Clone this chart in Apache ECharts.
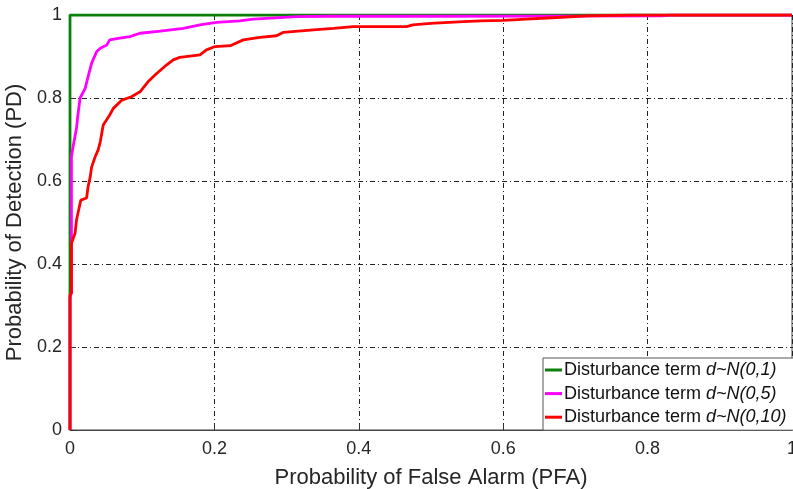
<!DOCTYPE html>
<html>
<head>
<meta charset="utf-8">
<script src="https://cdn.jsdelivr.net/npm/echarts@6/dist/echarts.min.js"></script>
<style>html,body{margin:0;padding:0;background:#fff}#c{width:793px;height:489px}</style>
</head>
<body>
<div id="c"></div>
<script>
var xTicks = [0, 0.2, 0.4, 0.6, 0.8, 1];
var yTicks = [0, 0.2, 0.4, 0.6, 0.8, 1];
var seriesNames = ['d~N(0,1)', 'd~N(0,5)', 'd~N(0,10)'];
var greenData = [[0,0],[0,1],[0.002,1],[1,1]];
var magentaData = [[0,0],[0,0.32],[0.002,0.33],[0.002,0.55],[0.002,0.66],[0.005,0.69],[0.009,0.727],[0.011,0.76],[0.014,0.80],[0.021,0.823],[0.025,0.851],[0.030,0.884],[0.037,0.912],[0.042,0.920],[0.051,0.928],[0.055,0.940],[0.069,0.944],[0.083,0.948],[0.097,0.956],[0.125,0.961],[0.157,0.968],[0.180,0.976],[0.203,0.982],[0.235,0.986],[0.254,0.990],[0.314,0.996],[0.356,0.997],[0.5,0.997],[0.82,0.998],[0.83,1],[1,1]];
var redData = [[0,0],[0,0.325],[0.002,0.33],[0.002,0.45],[0.007,0.474],[0.009,0.506],[0.012,0.530],[0.015,0.554],[0.023,0.559],[0.025,0.586],[0.028,0.610],[0.030,0.634],[0.035,0.659],[0.039,0.675],[0.042,0.695],[0.046,0.735],[0.055,0.759],[0.060,0.775],[0.072,0.795],[0.085,0.803],[0.097,0.815],[0.108,0.839],[0.120,0.859],[0.134,0.880],[0.143,0.892],[0.152,0.898],[0.180,0.904],[0.189,0.916],[0.201,0.924],[0.222,0.926],[0.240,0.940],[0.263,0.946],[0.286,0.950],[0.295,0.958],[0.337,0.964],[0.365,0.968],[0.392,0.972],[0.466,0.972],[0.475,0.976],[0.499,0.980],[0.545,0.984],[0.568,0.986],[0.600,0.987],[0.632,0.990],[0.674,0.994],[0.716,0.998],[0.780,1.0],[1,1]];
var colors = ['#0b800b', '#ff00ff', '#ff0000'];

var chart = echarts.init(document.getElementById('c'), null, {renderer: 'canvas'});
var font = 'Liberation Sans, Arial, Helvetica, sans-serif';
var gridLine = {show: true, lineStyle: {color: '#222', width: 1, type: [5, 3, 1, 3]}};
function axisCommon(name, gap, ticks) {
  return {
    type: 'value', min: 0, max: 1, interval: 0.2,
    name: name, nameLocation: 'middle', nameGap: gap,
    nameTextStyle: {fontFamily: font, fontSize: 22, color: '#262626'},
    axisLine: {show: true, lineStyle: {color: '#444', width: 1}},
    axisTick: {show: true, inside: true, length: 6, lineStyle: {color: '#333'}},
    axisLabel: {fontFamily: font, fontSize: 18, color: '#262626', margin: 8,
      formatter: function (v) { return String(+v.toFixed(1)); }},
    splitLine: gridLine
  };
}
var xa = axisCommon('Probability of False Alarm (PFA)', 37, xTicks);
xa.axisLabel.margin = 10;
var ya = axisCommon('Probability of Detection (PD)', 40, yTicks);
var data = [greenData, magentaData, redData];
var series = seriesNames.map(function (n, i) {
  return {
    name: n, type: 'line', data: data[i], showSymbol: false, symbol: 'none',
    lineStyle: {color: colors[i], width: 2.8}, itemStyle: {color: colors[i]},
    z: 2 + i, animation: false
  };
});
chart.setOption({
  animation: false,
  backgroundColor: '#fff',
  grid: {left: 70, right: 1, top: 15, bottom: 59, show: true, borderColor: '#444', borderWidth: 1, containLabel: false, outerBoundsMode: 'none'},
  xAxis: xa,
  yAxis: ya,
  legend: {
    show: true, orient: 'vertical', left: 543, top: 358,
    padding: [3, 60, 4, 2], itemGap: 5.6, itemWidth: 17, itemHeight: 3,
    backgroundColor: '#fff', borderColor: '#555', borderWidth: 1, borderRadius: 0,
    icon: 'rect',
    data: seriesNames,
    formatter: function (n) { return '{a|Disturbance term }{b|' + n + '}'; },
    textStyle: {
      fontFamily: font, fontSize: 18, color: '#111', padding: [0, 0, 0, -3],
      rich: {
        a: {fontFamily: font, fontSize: 18, color: '#111'},
        b: {fontFamily: font, fontSize: 18, color: '#111', fontStyle: 'italic'}
      }
    }
  },
  series: series
});
</script>
</body>
</html>
